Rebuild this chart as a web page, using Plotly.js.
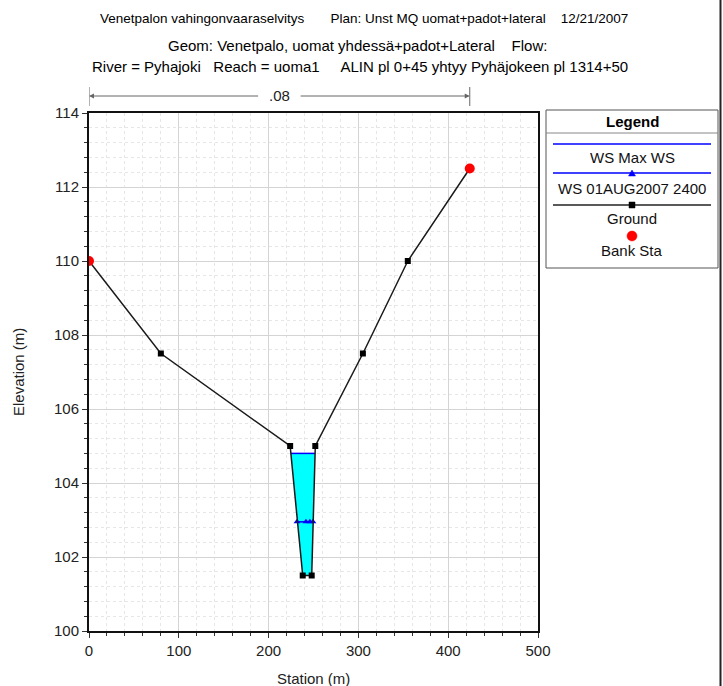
<!DOCTYPE html>
<html>
<head>
<meta charset="utf-8">
<script src="https://cdn.plot.ly/plotly-3.0.1.min.js"></script>
<style>html,body{margin:0;padding:0;background:#fff;}</style>
</head>
<body>
<div id="chart" style="width:723px;height:686px;"></div>
<script>
// ---- data ----
var groundStation = [0, 80, 224, 238, 248, 252, 305, 355, 424];
var groundElev    = [110, 107.5, 105, 101.5, 101.5, 105, 107.5, 110, 112.5];
var bankStation   = [0, 424];
var bankElev      = [110, 112.5];
var wsMaxStation  = [224.8, 251.8];
var wsMaxElev     = [104.8, 104.8];
var wsFillStation = [224.8, 238, 248, 251.8];
var wsFillElev    = [104.8, 101.5, 101.5, 104.8];
var ws01Station   = [231.6, 241.6, 246, 249.4];
var ws01Elev      = [102.95, 102.95, 102.95, 102.95];
var nValue        = ['.08'];
var legendNames   = ['WS Max WS', 'WS 01AUG2007 2400', 'Ground', 'Bank Sta'];
var titleLines = [
  'Venetpalon vahingonvaaraselvitys\u00a0\u00a0\u00a0\u00a0\u00a0\u00a0\u00a0Plan: Unst MQ uomat+padot+lateral\u00a0\u00a0\u00a0\u00a012/21/2007',
  'Geom: Venetpalo, uomat yhdessä+padot+Lateral\u00a0\u00a0\u00a0\u00a0Flow:',
  'River = Pyhajoki\u00a0\u00a0\u00a0Reach = uoma1\u00a0\u00a0\u00a0\u00a0\u00a0ALIN pl 0+45 yhtyy Pyhäjokeen pl 1314+50'
];

// ---- layout helpers (pixel -> paper) ----
var L = 89, R = 538, T = 113, B = 631;
function px(x){ return (x - L) / (R - L); }
function py(y){ return (B - y) / (B - T); }
var FONT = 'Liberation Sans, Arial, sans-serif';
var FS = 15;

var traces = [
  {x: wsFillStation, y: wsFillElev, mode: 'lines', fill: 'toself', fillcolor: '#00FFFF',
   line: {width: 0, color: '#00FFFF'}, hoverinfo: 'skip', showlegend: false},
  {x: wsMaxStation, y: wsMaxElev, mode: 'lines', line: {color: '#0000FF', width: 1.5}, name: legendNames[0], showlegend: false},
  {x: ws01Station, y: ws01Elev, mode: 'lines+markers', line: {color: '#0000FF', width: 1.5},
   marker: {symbol: 'triangle-up', size: 6, color: '#0000FF'}, name: legendNames[1], showlegend: false},
  {x: groundStation, y: groundElev, mode: 'lines+markers', line: {color: '#1a1a1a', width: 1.5},
   marker: {symbol: 'square', size: 6, color: '#000000'}, name: legendNames[2], showlegend: false},
  {x: bankStation, y: bankElev, mode: 'markers', marker: {symbol: 'circle', size: 10, color: '#FF0000'},
   name: legendNames[3], showlegend: false}
];

var annotations = [];
var shapes = [];
// Titles
var titleY = [18, 45, 67], titleX = [364, 357, 360], titleSize = [13.5, 15, 15];
for (var i = 0; i < titleLines.length; i++) {
  annotations.push({xref: 'paper', yref: 'paper', x: px(titleX[i]), y: py(titleY[i]), text: titleLines[i],
    showarrow: false, xanchor: 'center', yanchor: 'middle', font: {family: FONT, size: titleSize[i], color: '#000'}});
}
// Axis titles
annotations.push({xref: 'paper', yref: 'paper', x: px(18), y: py(372), text: 'Elevation (m)', textangle: -90,
  showarrow: false, xanchor: 'center', yanchor: 'middle', font: {family: FONT, size: FS, color: '#222'}});
annotations.push({xref: 'paper', yref: 'paper', x: px(313), y: py(678), text: 'Station (m)',
  showarrow: false, xanchor: 'center', yanchor: 'middle', font: {family: FONT, size: FS, color: '#222'}});

// Manning's n dimension line between bank stations
var dimY = py(96);
var mid = (bankStation[0] + bankStation[1]) / 2;
annotations.push({xref: 'x', yref: 'paper', x: mid, y: dimY, text: nValue[0], showarrow: false,
  xanchor: 'center', yanchor: 'middle', font: {family: FONT, size: FS, color: '#222'}});
annotations.push({xref: 'x', yref: 'paper', x: bankStation[0], y: dimY, axref: 'x', ayref: 'paper', ax: mid - 22, ay: dimY,
  text: '', showarrow: true, arrowhead: 2, arrowsize: 1, arrowwidth: 1, arrowcolor: '#666', standoff: 0, startstandoff: 0});
annotations.push({xref: 'x', yref: 'paper', x: bankStation[1], y: dimY, axref: 'x', ayref: 'paper', ax: mid + 22, ay: dimY,
  text: '', showarrow: true, arrowhead: 2, arrowsize: 1, arrowwidth: 1, arrowcolor: '#666', standoff: 0, startstandoff: 0});
for (var b = 0; b < bankStation.length; b++) {
  shapes.push({type: 'line', xref: 'x', yref: 'paper', x0: bankStation[b], x1: bankStation[b], y0: py(87), y1: py(106),
    line: {color: '#666', width: 1}});
}

// Legend box
var lx0 = 546, lx1 = 718, lcx = (lx0 + lx1) / 2;
shapes.push({type: 'rect', xref: 'paper', yref: 'paper', x0: px(lx0), x1: px(lx1), y0: py(110), y1: py(268),
  line: {color: '#555', width: 1}, fillcolor: 'rgba(0,0,0,0)'});
shapes.push({type: 'line', xref: 'paper', yref: 'paper', x0: px(lx0), x1: px(lx1), y0: py(133), y1: py(133),
  line: {color: '#888', width: 1}});
annotations.push({xref: 'paper', yref: 'paper', x: px(lcx), y: py(122), text: '<b>Legend</b>', showarrow: false,
  xanchor: 'center', yanchor: 'middle', font: {family: FONT, size: FS, color: '#000'}});
var sampleY = [144, 173, 205], sampleCol = ['#0000FF', '#0000FF', '#222'];
for (var k = 0; k < 3; k++) {
  shapes.push({type: 'line', xref: 'paper', yref: 'paper', x0: px(553), x1: px(711), y0: py(sampleY[k]), y1: py(sampleY[k]),
    line: {color: sampleCol[k], width: 1.3}});
}
// triangle sample
shapes.push({type: 'path', xref: 'paper', yref: 'paper',
  path: 'M ' + px(lcx - 3.5) + ' ' + py(176) + ' L ' + px(lcx + 3.5) + ' ' + py(176) + ' L ' + px(lcx) + ' ' + py(170) + ' Z',
  fillcolor: '#0000FF', line: {color: '#0000FF', width: 0.5}});
// square sample
shapes.push({type: 'rect', xref: 'paper', yref: 'paper', x0: px(lcx - 3), x1: px(lcx + 3), y0: py(208), y1: py(202),
  fillcolor: '#000', line: {color: '#000', width: 0.5}});
// circle sample
shapes.push({type: 'circle', xref: 'paper', yref: 'paper', x0: px(lcx - 5), x1: px(lcx + 5), y0: py(241), y1: py(231),
  fillcolor: '#FF0000', line: {color: '#FF0000', width: 0.5}});
var labelY = [157, 188, 218, 250];
for (var m = 0; m < legendNames.length; m++) {
  annotations.push({xref: 'paper', yref: 'paper', x: px(lcx), y: py(labelY[m]), text: legendNames[m], showarrow: false,
    xanchor: 'center', yanchor: 'middle', font: {family: FONT, size: FS, color: '#111'}});
}
// right window edge
shapes.push({type: 'line', xref: 'paper', yref: 'paper', x0: px(720.5), x1: px(720.5), y0: py(0), y1: py(686),
  line: {color: '#222', width: 2}});

var layout = {
  width: 723, height: 686,
  margin: {l: L, r: 723 - R, t: T, b: 686 - B, pad: 0},
  paper_bgcolor: '#fff', plot_bgcolor: '#fff',
  showlegend: false,
  font: {family: FONT, size: FS, color: '#222'},
  xaxis: {range: [0, 500], dtick: 100, tick0: 0, ticks: 'outside', ticklen: 5, tickcolor: '#333',
    showline: true, mirror: true, linecolor: '#111', linewidth: 2, zeroline: false,
    showgrid: true, gridcolor: '#d4d4d4', gridwidth: 1,
    minor: {dtick: 20, showgrid: true, gridcolor: '#e6e6e6', griddash: 'dot', ticks: 'outside', ticklen: 3, tickcolor: '#333'},
    tickfont: {family: FONT, size: FS, color: '#222'}},
  yaxis: {range: [100, 114], dtick: 2, tick0: 100, ticks: 'outside', ticklen: 5, tickcolor: '#333',
    showline: true, mirror: true, linecolor: '#111', linewidth: 2, zeroline: false,
    showgrid: true, gridcolor: '#d4d4d4', gridwidth: 1,
    minor: {dtick: 0.4, showgrid: true, gridcolor: '#e6e6e6', griddash: 'dot', ticks: 'outside', ticklen: 3, tickcolor: '#333'},
    tickfont: {family: FONT, size: FS, color: '#222'}},
  annotations: annotations,
  shapes: shapes
};

Plotly.newPlot('chart', traces, layout, {displayModeBar: false, staticPlot: true});
</script>
</body>
</html>
